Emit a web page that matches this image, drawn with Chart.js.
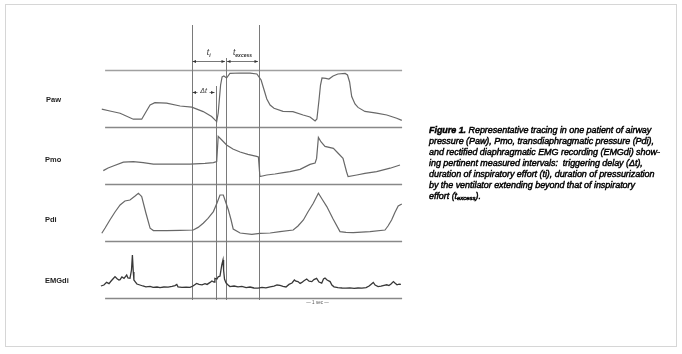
<!DOCTYPE html>
<html>
<head>
<meta charset="utf-8">
<script src="https://cdn.jsdelivr.net/npm/chart.js@4/dist/chart.umd.min.js"></script>
<style>
  html, body { margin: 0; padding: 0; background: #fff; }
  #wrap { position: relative; width: 682px; height: 354px; overflow: hidden; background: #fff; }
  #frame { position: absolute; left: 5px; top: 4px; width: 670px; height: 341px; border: 1px solid #d6d6d6; }
  #chart { position: absolute; left: 0; top: 0; filter: blur(0.55px); }
  .lab { position: absolute; font: bold 7.5px "Liberation Sans", Arial, sans-serif; color: #222; filter: blur(0.55px); transform: translateY(-50%); }
  #cap { position: absolute; left: 429px; top: 125px; font: italic 9px/11px "Liberation Sans", Arial, sans-serif; color: #000; filter: blur(0.75px); white-space: pre; letter-spacing: -0.05px; -webkit-text-stroke: 0.45px #000; }
  #cap b { font-weight: bold; }
  #cap sub { font-size: 6px; vertical-align: -1px; }
</style>
</head>
<body>
<div id="wrap">
  <div id="frame"></div>
  <canvas id="chart" width="682" height="354"></canvas>
  <div class="lab" style="left:46px;top:99px">Paw</div>
  <div class="lab" style="left:45px;top:159px">Pmo</div>
  <div class="lab" style="left:45px;top:219px">Pdi</div>
  <div class="lab" style="left:45px;top:280px">EMGdi</div>
  <div id="cap"><b>Figure 1.</b> Representative tracing in one patient of airway
pressure (Paw), Pmo, transdiaphragmatic pressure (Pdi),
and rectified diaphragmatic EMG recording (EMGdi) show-
ing pertinent measured intervals:  triggering delay (&Delta;t),
duration of inspiratory effort (ti), duration of pressurization
by the ventilator extending beyond that of inspiratory
effort (t<sub>excess</sub>).</div>
</div>
<script>
// Time base in tenths of a second; each trace in its own units.
const pawT = [0.6, 3.3, 6.7, 11.1, 13.9, 15.3, 16.7, 18.3, 22.2, 26.7, 30.6, 34.4, 37.2, 38.9, 39.4, 40.2, 40.7, 41.3, 42.2, 43.3, 46.7, 50, 52.3, 53.7, 54.7, 55.6, 56.7, 58, 61, 64.3, 67.7, 70, 71.7, 72.3, 73, 73.5, 74, 75.3, 76.3, 77.7, 79.3, 81.7, 82.5, 83.2, 83.9, 85, 86, 88.3, 92.2, 95.6, 98.9, 100.6];
const pawV = [8.9, 8, 6.9, 3.9, 3.9, 7.5, 11, 12.2, 11.9, 10.5, 9.9, 7.7, 5.2, 2.7, 7, 21, 25, 25.5, 24.5, 26.8, 27, 26.9, 26.5, 23.5, 18.5, 14, 11, 9.4, 7.8, 7.7, 6, 5, 3, 4, 13.5, 21, 24.5, 24.3, 24, 25.5, 26.5, 26.8, 26, 22.5, 15.2, 11.5, 9.8, 7.8, 6.9, 6, 4.4, 3.3];

const pmoT = [1.1, 2.7, 4.4, 7.8, 11.1, 14.4, 17.8, 22.2, 30, 35, 37.8, 38.9, 39.4, 40.6, 42.2, 44.3, 46.7, 49.3, 52.2, 52.8, 53.3, 55.6, 58.3, 61.1, 63.3, 66.7, 70, 71.7, 72.2, 72.8, 73.7, 75, 77.8, 79.3, 81, 82.2, 82.7, 85.6, 88.3, 92.2, 96.7, 100];
const pmoV = [6.7, 8, 9, 10.9, 11.2, 10.7, 9.9, 9.9, 9.9, 10.3, 10.7, 11.2, 23.8, 22, 19.5, 17.5, 16, 14.8, 13.8, 13.5, 3.7, 4.5, 5, 5.7, 6.2, 7.3, 9.8, 10.5, 12.8, 23.3, 21, 18.8, 17.8, 15.5, 12.8, 6, 3.7, 4.5, 5.3, 6.2, 7.9, 9.5];

const pdiT = [0.6, 1.7, 3.3, 5, 6.7, 8.3, 10, 11.7, 12.8, 13.9, 15.3, 16.7, 17.8, 22.2, 26.7, 31.1, 32.7, 34.4, 36, 37.8, 39, 40, 41.1, 42, 42.8, 43.7, 44.4, 46.7, 50.6, 53.3, 56.7, 60, 64.4, 66, 67.8, 69.3, 71.1, 72.8, 74, 75.6, 77.7, 80, 82, 84.4, 90, 95, 96, 97.2, 98.3, 99.4, 100.6];
const pdiV = [3.9, 6.5, 10.5, 14.5, 18, 20, 20.5, 22.5, 23.9, 22.2, 14, 6.4, 5.2, 5.2, 5.3, 5.5, 6.8, 8.9, 11.3, 14.7, 19, 23, 23, 19, 15.5, 10.5, 6, 4, 3.3, 3.8, 4, 4.7, 5.5, 7.5, 10.5, 14.5, 18.9, 23.9, 21, 17.2, 11, 4.7, 4.3, 4.2, 4.7, 5.5, 7.5, 10.5, 14.3, 17.5, 18.5];

const emgT = [0.3, 1.3, 2.2, 3, 3.7, 4.3, 5, 5.7, 6.3, 6.7, 7.3, 8, 8.9, 9.3, 10, 10.5, 10.8, 11.1, 11.3, 11.7, 12.3, 13.3, 14.3, 15.3, 16.7, 17.7, 19, 20, 21.3, 22.7, 24, 25, 25.6, 26, 27.3, 28.7, 30, 31, 32.2, 33, 34, 35, 35.7, 36.7, 37.3, 38, 38.3, 39, 39.4, 40, 40.6, 41, 41.2, 41.5, 42, 42.7, 43.3, 44.7, 46, 47.3, 48.7, 50, 51.3, 52.7, 54, 55.3, 56.7, 58, 59, 60, 61, 62, 63, 64, 64.8, 65.3, 66, 66.7, 67.3, 68, 68.9, 69.7, 70.6, 71.3, 72.2, 73, 73.9, 74.5, 75, 75.7, 76.7, 77.3, 78, 79.3, 80.7, 82, 83.3, 84.7, 86, 87.3, 88.7, 89.7, 90.3, 91.1, 91.7, 92.7, 93.7, 94.7, 95.6, 96.3, 97, 97.8, 98.3, 99, 99.7, 100.3];
const emgV = [6, 6.5, 7.8, 7.2, 8.5, 9.5, 10.7, 9.6, 9, 9.2, 10.5, 9.8, 11.5, 10, 9.9, 14, 21.5, 13, 9, 8.2, 7, 6.5, 6, 5.6, 5.8, 5.3, 5.5, 5.2, 5.5, 5.4, 5.8, 6.2, 6.8, 5.6, 5.3, 5.4, 5.3, 6, 7.3, 6.8, 6.6, 7.2, 6.8, 7.8, 8.5, 8, 9.8, 9.5, 10.6, 11, 16.5, 19, 14, 9.5, 7.5, 6.5, 5.7, 6, 5.6, 5.8, 5.2, 5.5, 5, 4.9, 5.3, 5.1, 5.6, 5.9, 6.5, 6.3, 5.8, 5.5, 6.8, 7.5, 9, 8.4, 8.2, 7.3, 7.8, 8.6, 9.5, 8.4, 8.2, 9.2, 9.8, 8, 7.4, 9.5, 10, 9, 8.2, 6.5, 5.6, 5.2, 5, 4.9, 5.1, 4.8, 5, 4.9, 5.2, 6, 6.8, 7.8, 6.5, 5.7, 5.9, 6.3, 6.6, 6.2, 7, 8.2, 7.5, 6.6, 6.9, 6.8];

// Reference rules: the Paw full-scale line and each trace's zero line.
const ruleAxes = ['yPaw', 'yPaw', 'yPmo', 'yPdi', 'yEmg'];
const ruleValues = [28.5, 0, 0, 0, 0];
const ruleFrom = 1.7;
const ruleTo = 100.7;

// Event markers: onset of effort, ventilator trigger, end of effort, end of pressurization.
const markerT = [30.5, 38.5, 42, 53];
const markerTopPaw = [51, 20.5, 34.5, 51];
const markerBottomEmg = -1;

// Interval annotations drawn in the Paw band.
const spanLabels = ['ti', 'texcess', 'Δt'];
const spanFrom = [30.5, 42, 30.5];
const spanTo = [42, 53, 38.5];
const spanLevel = [33, 33, 17.5];

const pts = (t, v) => t.map((x, i) => ({ x, y: v[i] }));

const overlay = {
  id: 'overlay',
  beforeDatasetsDraw(chart) {
    const { ctx, scales } = chart;
    const xs = scales.x;
    ctx.save();
    // horizontal rules
    ruleAxes.forEach((id, i) => {
      const y = Math.round(scales[id].getPixelForValue(ruleValues[i])) + 0.5;
      ctx.strokeStyle = i === 0 ? '#a0a0a0' : '#888888';
      ctx.lineWidth = 1.6;
      ctx.beginPath();
      ctx.moveTo(xs.getPixelForValue(ruleFrom), y);
      ctx.lineTo(xs.getPixelForValue(ruleTo), y);
      ctx.stroke();
    });
    // vertical event markers
    ctx.strokeStyle = '#7a7a7a';
    ctx.lineWidth = 1;
    markerT.forEach((t, i) => {
      const x = Math.round(xs.getPixelForValue(t)) + 0.5;
      ctx.beginPath();
      ctx.moveTo(x, scales.yPaw.getPixelForValue(markerTopPaw[i]));
      ctx.lineTo(x, scales.yEmg.getPixelForValue(markerBottomEmg));
      ctx.stroke();
    });
    ctx.restore();
  },
  afterDatasetsDraw(chart) {
    const { ctx, scales } = chart;
    const xs = scales.x, ys = scales.yPaw;
    ctx.save();
    ctx.strokeStyle = '#555';
    ctx.fillStyle = '#333';
    ctx.lineWidth = 0.8;
    const head = (x, y, dir) => {
      ctx.beginPath();
      ctx.moveTo(x, y);
      ctx.lineTo(x + dir * 3.5, y - 1.6);
      ctx.lineTo(x + dir * 3.5, y + 1.6);
      ctx.closePath();
      ctx.fill();
    };
    spanLabels.forEach((lab, i) => {
      const x0 = xs.getPixelForValue(spanFrom[i]) + 1;
      const x1 = xs.getPixelForValue(spanTo[i]) - 1;
      const y = Math.round(ys.getPixelForValue(spanLevel[i])) + 0.5;
      const xm = (x0 + x1) / 2;
      if (lab === 'Δt') {
        ctx.font = 'italic 7px "Liberation Sans", Arial, sans-serif';
        ctx.textAlign = 'center';
        ctx.textBaseline = 'middle';
        ctx.fillText('Δt', xm, y - 1);
        ctx.beginPath();
        ctx.moveTo(x0, y); ctx.lineTo(xm - 6, y);
        ctx.moveTo(xm + 6, y); ctx.lineTo(x1, y);
        ctx.stroke();
        head(x0, y, 1); head(x1, y, -1);
      } else {
        ctx.beginPath();
        ctx.moveTo(x0, y); ctx.lineTo(x1, y);
        ctx.stroke();
        head(x0, y, 1); head(x1, y, -1);
        ctx.textBaseline = 'alphabetic';
        ctx.textAlign = 'left';
        const main = 't';
        const sub = lab.slice(1);
        ctx.font = 'italic bold 5px "Liberation Sans", Arial, sans-serif';
        const subW = ctx.measureText(sub).width;
        ctx.font = 'italic 8.5px "Liberation Sans", Arial, sans-serif';
        const mainW = ctx.measureText(main).width;
        const start = xm - (mainW + subW) / 2;
        ctx.fillText(main, start, y - 7);
        ctx.font = 'italic bold 5px "Liberation Sans", Arial, sans-serif';
        ctx.fillText(sub, start + mainW, y - 5);
      }
    });
    // one-second scale mark under the EMG trace
    const yb = scales.yEmg.getPixelForValue(-2.5);
    ctx.font = '4.5px "Liberation Sans", Arial, sans-serif';
    ctx.textAlign = 'center';
    ctx.textBaseline = 'middle';
    ctx.fillStyle = '#555';
    ctx.fillText('— 1 sec —', xs.getPixelForValue(72.5), yb);
    ctx.restore();
  }
};

const trace = (data, yAxisID, color, width) => ({
  data, yAxisID, borderColor: color, borderWidth: width,
  pointRadius: 0, tension: 0, fill: false
});

const bandAxis = () => ({
  type: 'linear', display: false, stack: 'traces', stackWeight: 1, min: 0, max: 28.5
});

new Chart(document.getElementById('chart'), {
  type: 'line',
  data: {
    datasets: [
      trace(pts(pawT, pawV), 'yPaw', '#686868', 1.2),
      trace(pts(pmoT, pmoV), 'yPmo', '#686868', 1.2),
      trace(pts(pdiT, pdiV), 'yPdi', '#686868', 1.2),
      trace(pts(emgT, emgV), 'yEmg', '#383838', 1.3)
    ]
  },
  options: {
    responsive: false,
    animation: false,
    layout: { padding: { left: 100, right: 279, top: 70, bottom: 56 } },
    plugins: { legend: { display: false }, tooltip: { enabled: false } },
    scales: {
      x: { type: 'linear', display: false, min: 0, max: 101 },
      yEmg: bandAxis(),
      yPdi: bandAxis(),
      yPmo: bandAxis(),
      yPaw: bandAxis()
    }
  },
  plugins: [overlay]
});
</script>
</body>
</html>
